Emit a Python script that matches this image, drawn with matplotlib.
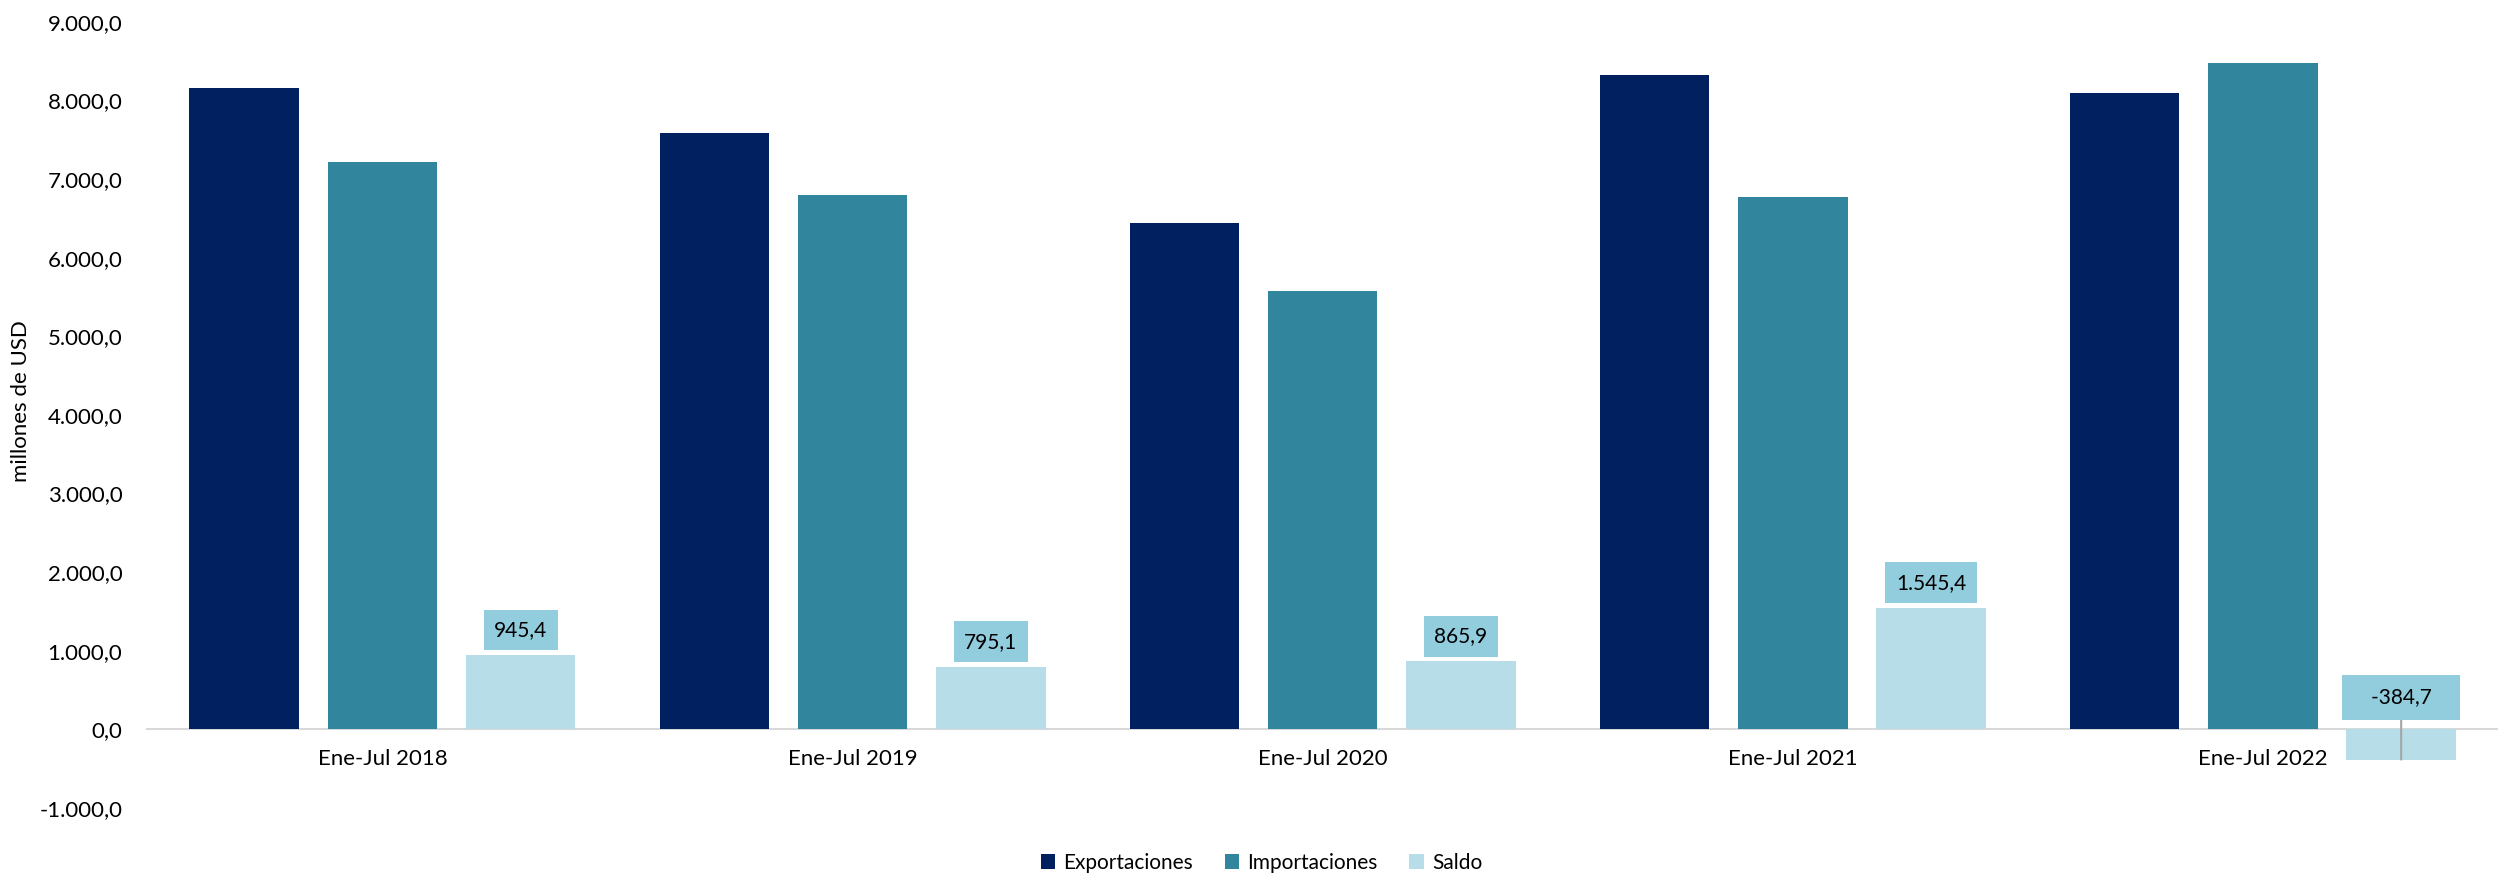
import numpy as np
import matplotlib
matplotlib.use("Agg")
import matplotlib.pyplot as plt
from matplotlib.ticker import FuncFormatter

plt.rcParams["font.family"] = ["Lato", "DejaVu Sans"]

periods = ["Ene-Jul 2018", "Ene-Jul 2019", "Ene-Jul 2020", "Ene-Jul 2021", "Ene-Jul 2022"]
exportaciones = [8160.0, 7590.0, 6445.0, 8320.0, 8095.0]
importaciones = [7214.6, 6794.9, 5579.1, 6774.6, 8479.7]
saldo = [945.4, 795.1, 865.9, 1545.4, -384.7]

C_EXP = "#002060"
C_IMP = "#31859C"
C_SAL = "#B7DEE8"
C_BOX = "#92CDDD"


def es_fmt(v, pos=None):
    s = f"{v:,.1f}"
    return s.replace(",", "X").replace(".", ",").replace("X", ".")


fig = plt.figure(figsize=(24.98, 8.73), dpi=100)
ax = fig.add_axes([0.059, 0.0745, 0.941, 0.9005])

x = np.arange(len(periods))
w = 0.233
step = 0.294
ax.bar(x - step, exportaciones, w, color=C_EXP, label="Exportaciones", zorder=2)
ax.bar(x, importaciones, w, color=C_IMP, label="Importaciones", zorder=2)
ax.bar(x + step, saldo, w, color=C_SAL, label="Saldo", zorder=2)

for xi, v in zip(x + step, saldo):
    if v >= 0:
        ax.annotate(es_fmt(v), xy=(xi, v), xytext=(0, 18), textcoords="offset points",
                    ha="center", va="center", fontsize=15, zorder=4,
                    bbox=dict(boxstyle="square,pad=0.5", fc=C_BOX, ec="none"))
    else:
        # negative value: label sits above the zero line with a leader line
        ax.annotate("   " + es_fmt(v) + "   ", xy=(xi, v), xytext=(0, 45),
                    textcoords="offset points",
                    ha="center", va="center", fontsize=15, zorder=4,
                    bbox=dict(boxstyle="square,pad=0.6", fc=C_BOX, ec="none"),
                    arrowprops=dict(arrowstyle="-", color="#A6A6A6", lw=1.5,
                                    shrinkA=0, shrinkB=0))

ax.set_xlim(-0.5, 4.5)
ax.set_ylim(-1000, 9000)
ax.set_yticks(np.arange(-1000, 9001, 1000))
ax.yaxis.set_major_formatter(FuncFormatter(es_fmt))
ax.set_xticks(x)
ax.set_xticklabels(periods)
ax.tick_params(axis="both", length=0, labelsize=16)
ax.tick_params(axis="y", pad=18)
ax.tick_params(axis="x", pad=14)

for s in ["top", "right", "left"]:
    ax.spines[s].set_visible(False)
ax.spines["bottom"].set_position(("data", 0))
ax.spines["bottom"].set_color("#D9D9D9")
ax.spines["bottom"].set_linewidth(1.5)
ax.spines["bottom"].set_zorder(1)

ax.set_ylabel("millones de USD", fontsize=16)
ax.yaxis.set_label_coords(-0.0493, 0.517)

fig.legend(loc="lower center", bbox_to_anchor=(0.505, -0.021), ncol=3, frameon=False,
           fontsize=15, handlelength=0.7, handleheight=0.7, handletextpad=0.4,
           columnspacing=1.5)

fig.savefig("out.png", dpi=100)
